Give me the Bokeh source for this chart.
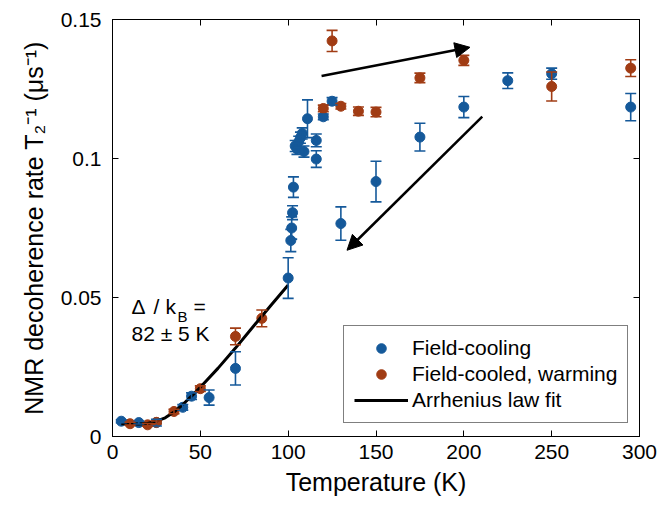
from bokeh.plotting import figure
from bokeh.models import (ColumnDataSource, Whisker, TeeHead, Arrow, NormalHead,
                          LinearAxis, FixedTicker, CustomJSTickFormatter, Legend,
                          LegendItem, Range1d)
from bokeh.core.properties import value
from bokeh.embed import file_html
from bokeh.resources import INLINE

FONT = "Liberation Sans"
BLUE = "#15599A"
ORANGE = "#A13C14"

# ---- data ----
fc_T = [5, 15, 25, 40, 45, 55, 70, 100, 101.5, 102, 102.5, 103,
        104, 105, 106, 107, 108, 109, 111, 116, 116, 120, 125, 130,
        150, 175, 200, 225, 250, 295]
fc_rate = [0.0055, 0.0050, 0.0050, 0.0105, 0.0145, 0.0140, 0.0245, 0.0570,
           0.0705, 0.0750, 0.0805, 0.0897,
           0.1045, 0.1035, 0.1060, 0.1075, 0.1090, 0.1025, 0.1143, 0.1065,
           0.0998, 0.1150, 0.1206, 0.0766,
           0.0917, 0.1077, 0.1185, 0.1280, 0.1305, 0.1185]
fc_err = [0.0005, 0.0005, 0.0012, 0.0010, 0.0012, 0.0027, 0.0060, 0.0073,
          0.0040, 0.0040, 0.0025, 0.0037,
          0.0020, 0.0020, 0.0020, 0.0020, 0.0020, 0.0020, 0.0068, 0.0023,
          0.0030, 0.0010, 0.0013, 0.0060,
          0.0073, 0.0050, 0.0038, 0.0028, 0.0020, 0.0049]

fcw_T = [10, 20, 25, 35, 50, 70, 85, 120, 125, 130, 140, 150, 175, 200, 250, 295]
fcw_rate = [0.0046, 0.0042, 0.0051, 0.0090, 0.0172, 0.0360, 0.0425, 0.1180,
            0.1423, 0.1188, 0.1170, 0.1167, 0.1290, 0.1353, 0.1259, 0.1325]
fcw_err = [0.0005, 0.0005, 0.0005, 0.0008, 0.0010, 0.0030, 0.0030, 0.0012,
           0.0038, 0.0010, 0.0015, 0.0017, 0.0017, 0.0018, 0.0052, 0.0030]

fit_T = [5, 15, 20, 25, 30, 35, 40, 45, 50, 60, 70, 80, 90, 100]
fit_rate = [0.0046, 0.0045, 0.0047, 0.0055, 0.0067, 0.0088, 0.0115, 0.0145,
            0.0177, 0.0245, 0.0318, 0.0395, 0.0470, 0.0545]

x_ticks = [0, 50, 100, 150, 200, 250, 300]
y_ticks = [0, 0.05, 0.1, 0.15]
y_tick_labels = ["0", "0.05", "0.1", "0.15"]

arrow_x_start = [119, 210.5]
arrow_y_start = [0.1297, 0.1151]
arrow_x_end = [203.5, 133.5]
arrow_y_end = [0.1400, 0.0670]

legend_labels = ["Field-cooling", "Field-cooled, warming", "Arrhenius law fit"]

# ---- figure ----
p = figure(width=664, height=511, x_range=Range1d(0, 300), y_range=Range1d(0, 0.15),
           output_backend="svg", toolbar_location=None,
           min_border_left=112, min_border_right=25, min_border_top=19,
           min_border_bottom=75,
           x_axis_label="Temperature (K)",
           y_axis_label="NMR decoherence rate T\u2082\u207b\u00b9 (\u03bcs\u207b\u00b9)")
p.xgrid.visible = False
p.ygrid.visible = False
p.outline_line_color = "black"
p.outline_line_width = 1
p.background_fill_color = "white"
p.border_fill_color = "white"

p.xaxis.ticker = FixedTicker(ticks=x_ticks)
p.yaxis.ticker = FixedTicker(ticks=y_ticks)
p.yaxis.major_label_overrides = {t: l for t, l in zip(y_ticks, y_tick_labels)}

for ax in (p.xaxis[0], p.yaxis[0]):
    ax.axis_line_color = "black"
    ax.major_tick_line_color = "black"
    ax.major_tick_in = 6
    ax.major_tick_out = 0
    ax.minor_tick_line_color = None
    ax.major_label_text_font = FONT
    ax.major_label_text_font_size = "21px"
    ax.major_label_text_color = "black"
    ax.axis_label_text_font = FONT
    ax.axis_label_text_font_size = "25px"
    ax.axis_label_text_font_style = "normal"
    ax.axis_label_text_color = "black"
p.xaxis.major_label_standoff = 8
p.xaxis.axis_label_standoff = 6
p.yaxis.major_label_standoff = 11
p.yaxis.axis_label_standoff = 10

# mirrored axes (top/right) with ticks only
top = LinearAxis(ticker=FixedTicker(ticks=x_ticks),
                 formatter=CustomJSTickFormatter(code="return ''"))
right = LinearAxis(ticker=FixedTicker(ticks=y_ticks),
                   formatter=CustomJSTickFormatter(code="return ''"))
for ax in (top, right):
    ax.axis_line_color = "black"
    ax.major_tick_line_color = "black"
    ax.major_tick_in = 6
    ax.major_tick_out = 0
    ax.minor_tick_line_color = None
    ax.major_label_text_font_size = "0px"
    ax.major_label_standoff = 0
p.add_layout(top, "above")
p.add_layout(right, "right")

# ---- series ----
fc_src = ColumnDataSource(dict(T=fc_T, r=fc_rate,
                               lo=[v - e for v, e in zip(fc_rate, fc_err)],
                               hi=[v + e for v, e in zip(fc_rate, fc_err)]))
fcw_src = ColumnDataSource(dict(T=fcw_T, r=fcw_rate,
                                lo=[v - e for v, e in zip(fcw_rate, fcw_err)],
                                hi=[v + e for v, e in zip(fcw_rate, fcw_err)]))

for src, col in ((fc_src, BLUE), (fcw_src, ORANGE)):
    w = Whisker(source=src, base="T", lower="lo", upper="hi", dimension="height",
                line_color=col, line_width=1.6,
                upper_head=TeeHead(size=11, line_color=col, line_width=1.6),
                lower_head=TeeHead(size=11, line_color=col, line_width=1.6),
                level="glyph")
    p.add_layout(w)

r_fc = p.scatter("T", "r", source=fc_src, size=10, fill_color=BLUE, line_color=BLUE)
r_fcw = p.scatter("T", "r", source=fcw_src, size=10, fill_color=ORANGE, line_color=ORANGE)
r_fit = p.line(fit_T, fit_rate, line_color="black", line_width=3)

# ---- arrows ----
for xs, ys, xe, ye in zip(arrow_x_start, arrow_y_start, arrow_x_end, arrow_y_end):
    p.add_layout(Arrow(x_start=xs, y_start=ys, x_end=xe, y_end=ye,
                       line_color="black", line_width=2.5,
                       end=NormalHead(size=15, fill_color="black", line_color="black")))

# ---- annotation text ----
ann_x = 10.8
line1_y = 0.0468
sub_y = 0.0430
line2_y = 0.0371
pieces = [("\u0394", 0, line1_y, "21px"), ("/", 22, line1_y, "21px"),
          ("k", 34, line1_y, "21px"), ("B", 46, sub_y, "15px"),
          ("=", 62, line1_y, "21px")]
for txt, dx, yy, fs in pieces:
    p.text(x=[ann_x], y=[yy], text=[txt], text_font=value(FONT), x_offset=dx,
           text_font_size=fs, text_baseline="middle", text_align="left",
           text_color="black")
p.text(x=[ann_x], y=[line2_y], text=["82 \u00b1 5 K"], text_font=value(FONT),
       text_font_size="21px", text_baseline="middle", text_align="left", text_color="black")

# ---- legend ----
legend = Legend(items=[LegendItem(label=legend_labels[0], renderers=[r_fc]),
                       LegendItem(label=legend_labels[1], renderers=[r_fcw]),
                       LegendItem(label=legend_labels[2], renderers=[r_fit])],
                location=(231, 13))
legend.label_text_font = FONT
legend.label_text_font_size = "21px"
legend.label_text_color = "black"
legend.glyph_width = 54
legend.glyph_height = 24
legend.label_height = 24
legend.label_standoff = 4
legend.spacing = 2
legend.padding = 10
legend.border_line_color = "black"
legend.border_line_width = 1
legend.background_fill_alpha = 1
p.add_layout(legend, "center")

open("out.html", "w").write(file_html(p, INLINE))
